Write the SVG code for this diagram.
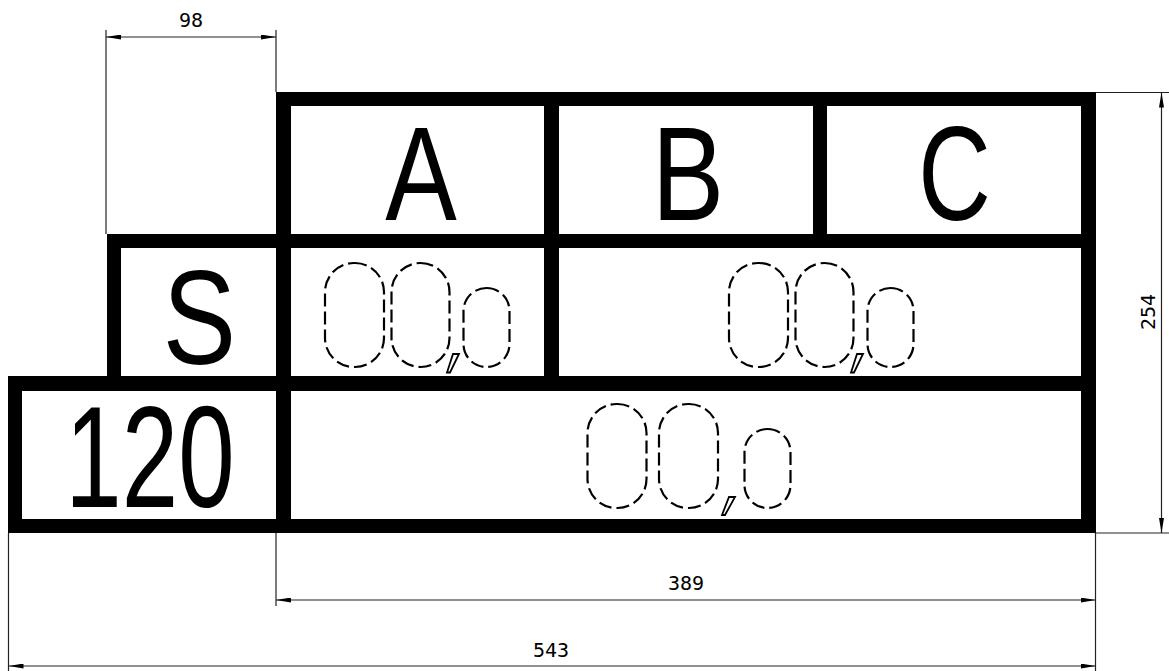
<svg xmlns="http://www.w3.org/2000/svg" width="1169" height="671" viewBox="0 0 1169 671">
<style>
.bar{fill:#000}
.big{font-family:"Liberation Sans",Arial,sans-serif;font-size:134px;fill:#000;text-anchor:middle}
.dim{font-family:"DejaVu Sans Mono",monospace;font-size:20px;fill:#000;text-anchor:middle}
.thin{stroke:#222;stroke-width:1.2;fill:none}
.dl{stroke:#222;stroke-width:1.2;fill:none;marker-start:url(#arr);marker-end:url(#arr)}
.ph{fill:none;stroke:#000;stroke-width:2.2;stroke-dasharray:13 5}
.cm{fill:none;stroke:#000;stroke-width:1.8;stroke-linejoin:miter}
</style>
<defs>
<marker id="arr" viewBox="0 0 15 5" refX="15" refY="2.5" markerWidth="15" markerHeight="5" markerUnits="userSpaceOnUse" orient="auto-start-reverse">
<path d="M0,0 L15,2.5 L0,5 z" fill="#000"/>
</marker>
</defs>
<rect width="1169" height="671" fill="#fff"/>

<g id="connectors">
<line class="thin" x1="106" y1="30" x2="106" y2="234"/>
<line class="thin" x1="276" y1="30" x2="276" y2="92"/>
<line class="thin" x1="276" y1="533" x2="276" y2="606"/>
<line class="thin" x1="1095.5" y1="533" x2="1095.5" y2="671"/>
<line class="thin" x1="8.5" y1="533" x2="8.5" y2="671"/>
<line class="thin" x1="1096" y1="92.5" x2="1169" y2="92.5"/>
<line class="thin" x1="1096" y1="533" x2="1169" y2="533"/>
<line class="dl" x1="106" y1="37" x2="276" y2="37"/>
<line class="dl" x1="276" y1="600" x2="1095.5" y2="600"/>
<line class="dl" x1="8.5" y1="666" x2="1095.5" y2="666"/>
<line class="dl" x1="1161.5" y1="92.5" x2="1161.5" y2="533"/>
</g>

<g id="dimension-labels">
<text class="dim" x="191" y="27">98</text>
<text class="dim" x="686" y="590">389</text>
<text class="dim" x="551" y="657">543</text>
<text class="dim" transform="translate(1155,312) rotate(-90)">254</text>
</g>

<g id="frame">
<rect class="bar" x="276" y="92" width="820" height="14"/>
<rect class="bar" x="107" y="234" width="989" height="14"/>
<rect class="bar" x="8" y="376" width="1088" height="15"/>
<rect class="bar" x="8" y="519" width="1088" height="14"/>
<rect class="bar" x="8" y="376" width="14" height="157"/>
<rect class="bar" x="107" y="234" width="14" height="157"/>
<rect class="bar" x="276" y="92" width="15" height="441"/>
<rect class="bar" x="544" y="92" width="15" height="299"/>
<rect class="bar" x="813" y="92" width="14" height="156"/>
<rect class="bar" x="1081" y="92" width="15" height="441"/>
</g>

<g id="cell-A">
<text class="big" transform="translate(421,220) scale(0.8,1)">A</text>
</g>
<g id="cell-B">
<text class="big" transform="translate(688,220) scale(0.81,1)">B</text>
</g>
<g id="cell-C">
<text class="big" transform="translate(954.5,220) scale(0.75,1)">C</text>
</g>
<g id="cell-S">
<text class="big" transform="translate(199.5,364) scale(0.82,1)">S</text>
</g>
<g id="cell-120">
<text class="big" style="font-size:145px" transform="translate(150,507) scale(0.7,1)">120</text>
</g>

<g id="cell-SA">
<rect class="ph" x="325" y="263" width="59" height="104" rx="29" ry="29"/>
<rect class="ph" x="391.5" y="263" width="58" height="104" rx="29" ry="29"/>
<polygon class="cm" points="453,354 459,354 450,372.5 447,372.5"/>
<rect class="ph" x="463.5" y="288" width="46" height="79" rx="23" ry="23"/>
</g>

<g id="cell-SBC">
<rect class="ph" x="729" y="263" width="59" height="104" rx="29" ry="29"/>
<rect class="ph" x="795.5" y="263" width="58" height="104" rx="29" ry="29"/>
<polygon class="cm" points="857,354 863,354 854,372.5 851,372.5"/>
<rect class="ph" x="867.5" y="288" width="46" height="79" rx="23" ry="23"/>
</g>

<g id="cell-bottom">
<rect class="ph" x="587.5" y="404" width="59" height="104" rx="29" ry="29"/>
<rect class="ph" x="659" y="404" width="59" height="104" rx="29" ry="29"/>
<polygon class="cm" points="729,497 735,497 725,515 722,515"/>
<rect class="ph" x="744.5" y="429" width="46" height="79" rx="23" ry="23"/>
</g>
</svg>
